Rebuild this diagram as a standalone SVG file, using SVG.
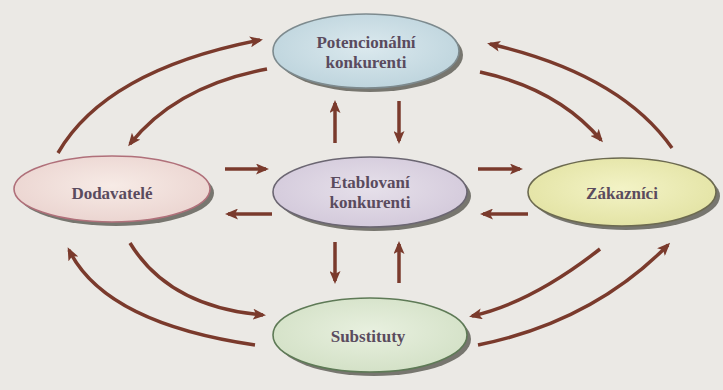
<svg xmlns="http://www.w3.org/2000/svg" width="723" height="390" viewBox="0 0 723 390">
  <style>
    .bg { fill: #ebe9e5; }
    .shadow { fill: #77766f; }
    .node { stroke-width: 1.6; }
    .lbl { font-family: "Liberation Serif", "Times New Roman", serif; font-size: 17px; font-weight: bold; fill: #5a4b5e; text-anchor: middle; }
    .arr { fill: none; stroke: #7a3a2c; stroke-width: 3.5; marker-end: url(#ah); }
  </style>
  <defs>
    <marker id="ah" viewBox="0 0 13 11" markerUnits="userSpaceOnUse" markerWidth="13" markerHeight="11" refX="10" refY="5.5" orient="auto">
      <path d="M0,0 L13,5.5 L0,11 L3,5.5 z" fill="#7a3a2c"/>
    </marker>
    <radialGradient id="gBlue" cx="50%" cy="45%" r="60%">
      <stop offset="0" stop-color="#dbe9ee"/>
      <stop offset="1" stop-color="#bcd3dc"/>
    </radialGradient>
    <radialGradient id="gPink" cx="50%" cy="45%" r="60%">
      <stop offset="0" stop-color="#f7ebe6"/>
      <stop offset="1" stop-color="#ead3cf"/>
    </radialGradient>
    <radialGradient id="gLav" cx="50%" cy="45%" r="60%">
      <stop offset="0" stop-color="#e6e0ea"/>
      <stop offset="1" stop-color="#d2c8da"/>
    </radialGradient>
    <radialGradient id="gYel" cx="50%" cy="45%" r="60%">
      <stop offset="0" stop-color="#f3f3c6"/>
      <stop offset="1" stop-color="#e2e2a2"/>
    </radialGradient>
    <radialGradient id="gGrn" cx="50%" cy="45%" r="60%">
      <stop offset="0" stop-color="#e8f0df"/>
      <stop offset="1" stop-color="#d2e0c5"/>
    </radialGradient>
  </defs>

  <rect class="bg" x="0" y="0" width="723" height="390"/>

  <g id="connectors">
    <path class="arr" d="M58,153 Q106,70 260,40"/>
    <path class="arr" d="M267,69 Q176,86 130,144"/>
    <path class="arr" d="M672,148 Q620,74 490,44"/>
    <path class="arr" d="M480,72 Q558,89 601,140"/>
    <path class="arr" d="M255,345 Q105,323 69,250"/>
    <path class="arr" d="M130,243 Q169,307 263,315"/>
    <path class="arr" d="M600,249 Q531,303 472,316"/>
    <path class="arr" d="M478,345 Q592,322 668,245"/>
    <path class="arr" d="M335,143 L335,103"/>
    <path class="arr" d="M399,101 L399,141"/>
    <path class="arr" d="M335,242 L335,281"/>
    <path class="arr" d="M399,283 L399,244"/>
    <path class="arr" d="M225,169 L266,169"/>
    <path class="arr" d="M272,214 L228,214"/>
    <path class="arr" d="M478,169 L520,169"/>
    <path class="arr" d="M528,214 L483,214"/>
  </g>

  <g id="potencionalni">
    <ellipse class="shadow" cx="370" cy="55" rx="93" ry="37"/>
    <ellipse class="node" cx="366" cy="51" rx="93" ry="37" fill="url(#gBlue)" stroke="#7d8a8e"/>
    <text class="lbl" x="366" y="48">Potencionální</text>
    <text class="lbl" x="366" y="68">konkurenti</text>
  </g>

  <g id="dodavatele">
    <ellipse class="shadow" cx="116" cy="193" rx="98" ry="33"/>
    <ellipse class="node" cx="112" cy="189" rx="98" ry="33" fill="url(#gPink)" stroke="#b0707a"/>
    <text class="lbl" x="112" y="199">Dodavatelé</text>
  </g>

  <g id="etablovani">
    <ellipse class="shadow" cx="374" cy="196" rx="97" ry="35"/>
    <ellipse class="node" cx="370" cy="192" rx="97" ry="35" fill="url(#gLav)" stroke="#6b6672"/>
    <text class="lbl" x="370" y="188">Etablovaní</text>
    <text class="lbl" x="370" y="208">konkurenti</text>
  </g>

  <g id="zakaznici">
    <ellipse class="shadow" cx="626" cy="196" rx="94" ry="34"/>
    <ellipse class="node" cx="622" cy="192" rx="94" ry="34" fill="url(#gYel)" stroke="#6c6a50"/>
    <text class="lbl" x="622" y="199">Zákazníci</text>
  </g>

  <g id="substituty">
    <ellipse class="shadow" cx="374" cy="339" rx="97" ry="37"/>
    <ellipse class="node" cx="370" cy="335" rx="97" ry="37" fill="url(#gGrn)" stroke="#5e7a56"/>
    <text class="lbl" x="368" y="342">Substituty</text>
  </g>
</svg>
